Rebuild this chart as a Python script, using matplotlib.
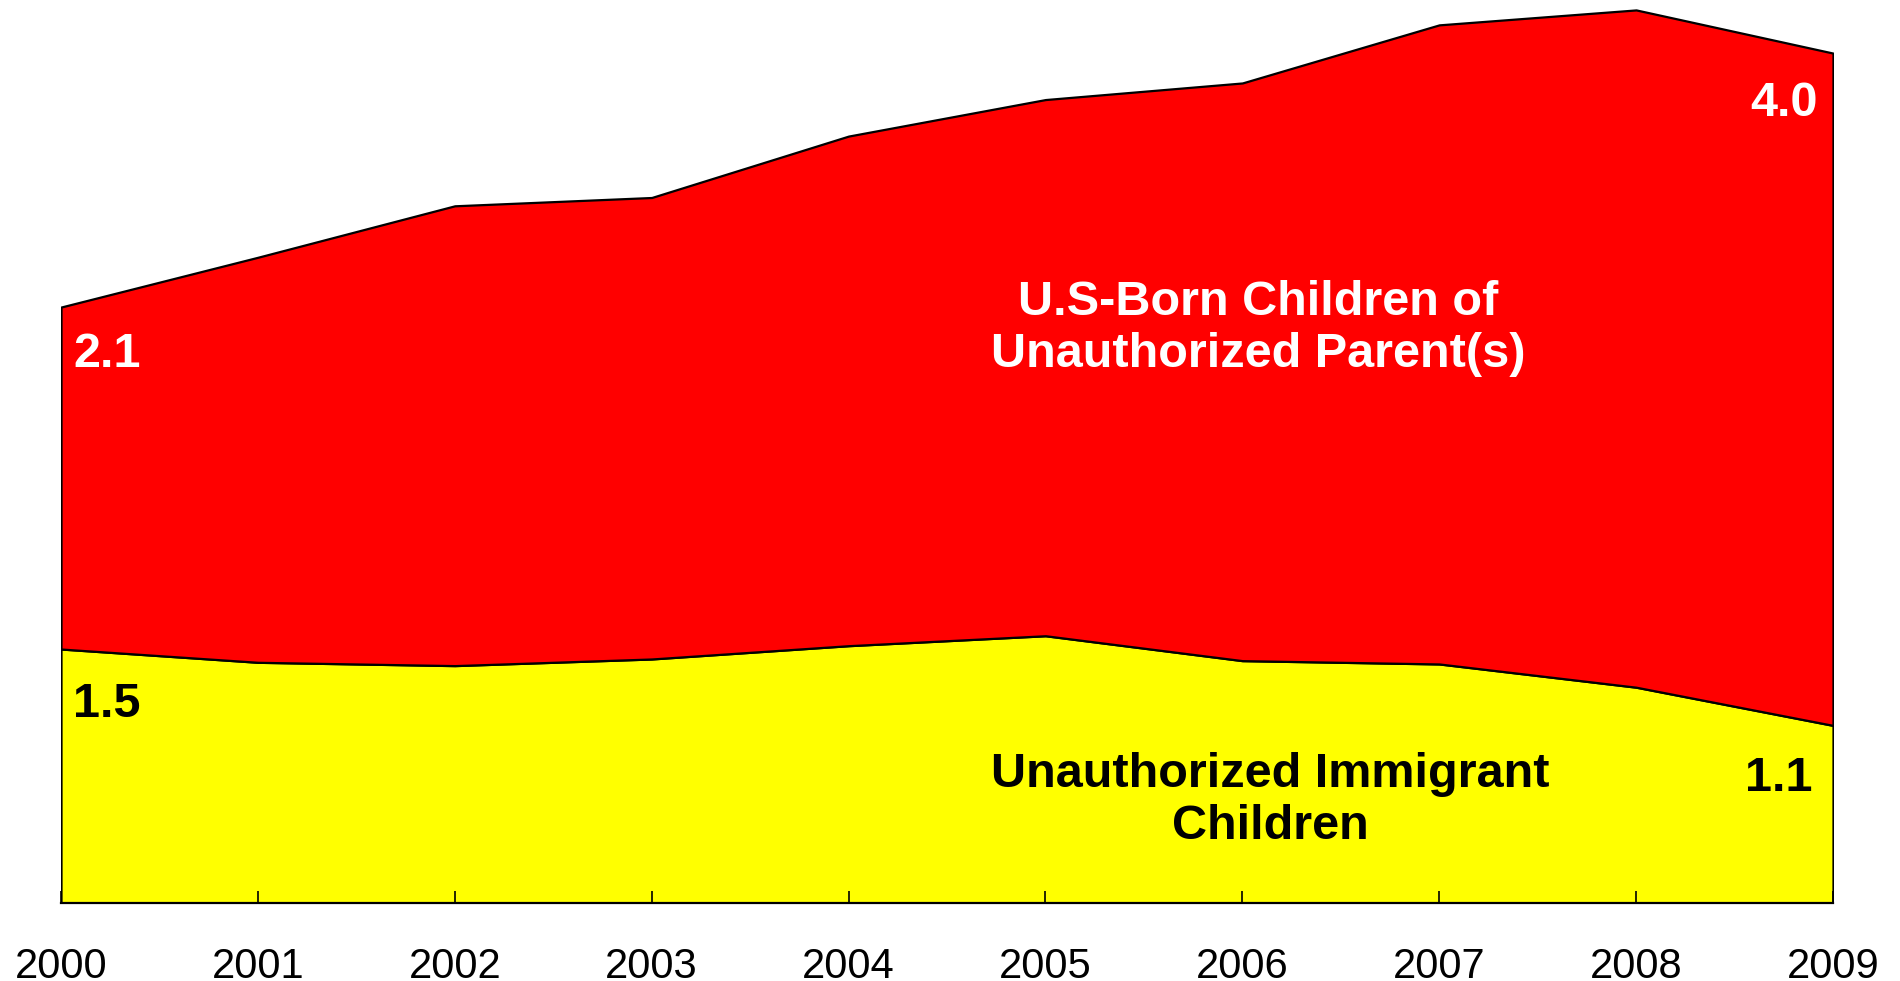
import numpy as np
import matplotlib as mpl
import matplotlib.pyplot as plt

mpl.rcParams['font.family'] = ['Liberation Sans', 'DejaVu Sans']

# %% Data (millions)
years = [2000, 2001, 2002, 2003, 2004, 2005, 2006, 2007, 2008, 2009]
unauth_children = [1.53, 1.45, 1.43, 1.47, 1.55, 1.61, 1.46, 1.44, 1.30, 1.07]
usborn_children = [2.06, 2.44, 2.77, 2.78, 3.07, 3.23, 3.48, 3.85, 4.08, 4.05]
series_names = ['Unauthorized Immigrant\nChildren',
                'U.S-Born Children of\nUnauthorized Parent(s)']
end_labels = ['1.5', '2.1', '1.1', '4.0']

# %% Plot
fig = plt.figure(figsize=(19, 9.81), dpi=100)
ax = fig.add_axes([61/1900, 1 - 903/981, (1833 - 61)/1900, 903/981])

ax.stackplot(years, unauth_children, usborn_children,
             colors=['#FFFF00', '#FF0000'], edgecolor='black', linewidth=1.6)

ax.set_xlim(years[0], years[-1])
ax.set_ylim(0, 903/166)
ax.set_yticks([])
ax.set_xticks(years)
ax.set_xticklabels([str(y) for y in years], fontsize=30)
ax.tick_params(axis='x', direction='in', length=8.6, width=1.2, pad=32)
for s in ['left', 'right', 'top']:
    ax.spines[s].set_visible(False)
ax.spines['bottom'].set_linewidth(1.6)
ax.set_facecolor('none')

total = np.array(unauth_children) + np.array(usborn_children)

# end value labels
kw = dict(textcoords='offset points', fontsize=35, fontweight='bold', va='baseline')
ax.annotate(end_labels[0], (years[0], unauth_children[0]), xytext=(8.6, -49),
            ha='left', color='black', **kw)
ax.annotate(end_labels[1], (years[0], total[0]), xytext=(8.6, -43),
            ha='left', color='white', **kw)
ax.annotate(end_labels[2], (years[-1], unauth_children[-1]), xytext=(-14.4, -47.5),
            ha='right', color='black', **kw)
ax.annotate(end_labels[3], (years[-1], total[-1]), xytext=(-10.8, -45.4),
            ha='right', color='white', **kw)

# series labels
ax.text(2006.14, 0.62, series_names[0], ha='center', va='center', fontsize=35,
        fontweight='bold', color='black', linespacing=1.2)
ax.text(2006.08, 3.46, series_names[1], ha='center', va='center', fontsize=35,
        fontweight='bold', color='white', linespacing=1.2)

fig.savefig('out.png', dpi=100)
